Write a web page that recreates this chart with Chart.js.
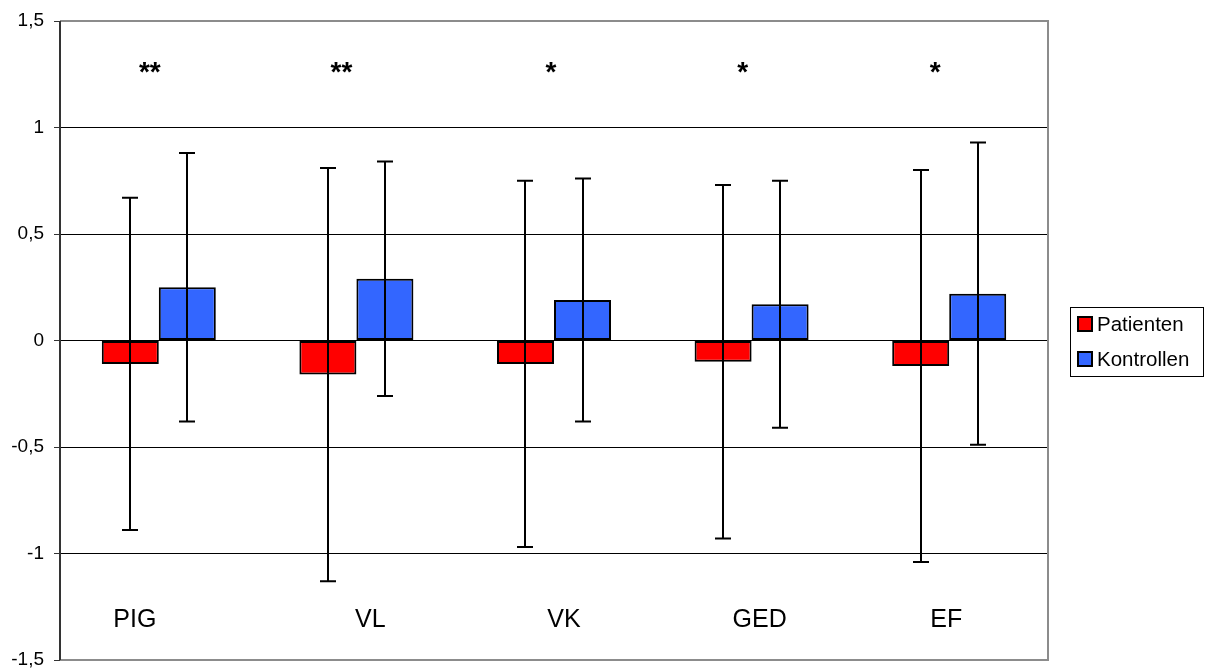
<!DOCTYPE html>
<html>
<head>
<meta charset="utf-8">
<script src="https://cdn.jsdelivr.net/npm/chart.js@4/dist/chart.umd.min.js"></script>
<style>
  html, body { margin: 0; padding: 0; background: #fff; }
  #wrap { width: 1209px; height: 671px; position: relative; }
</style>
</head>
<body>
<div id="wrap"><canvas id="c" width="1209" height="671"></canvas></div>
<script>
// Group names shown inside the plot and significance marks above each group
const categories = ['PIG', 'VL', 'VK', 'GED', 'EF'];
const significance = ['**', '**', '*', '*', '*'];

// Means (bars) and standard deviations (error bars)
const patientenMean = [-0.11, -0.16, -0.11, -0.10, -0.12];
const patientenSD = [0.78, 0.97, 0.86, 0.83, 0.92];
const kontrollenMean = [0.25, 0.29, 0.19, 0.17, 0.22];
const kontrollenSD = [0.63, 0.55, 0.57, 0.58, 0.71];

// Y axis range and step
const yMin = -1.5, yMax = 1.5, yStep = 0.5;

// Horizontal nudges (px) of the in-plot labels relative to the group centre
const labelShift = [-24, 14, 10, 8, -3];
const starShift = [-9, -15, -3, -9, -14];

const FONT = 'Liberation Sans, Arial, sans-serif';

const errorBars = {
  id: 'errorBars',
  afterDatasetsDraw(chart) {
    const ctx = chart.ctx;
    const y = chart.scales.y;
    const sds = [patientenSD, kontrollenSD];
    ctx.save();
    ctx.strokeStyle = '#000';
    ctx.lineWidth = 2;
    chart.data.datasets.forEach((ds, di) => {
      const meta = chart.getDatasetMeta(di);
      meta.data.forEach((bar, i) => {
        const m = ds.data[i], s = sds[di][i];
        const top = y.getPixelForValue(m + s);
        const bot = y.getPixelForValue(m - s);
        const x = Math.round(bar.x);
        ctx.beginPath();
        ctx.moveTo(x, top); ctx.lineTo(x, bot);
        ctx.moveTo(x - 8, top); ctx.lineTo(x + 8, top);
        ctx.moveTo(x - 8, bot); ctx.lineTo(x + 8, bot);
        ctx.stroke();
      });
    });
    ctx.restore();
  }
};

const annotations = {
  id: 'annotations',
  afterDraw(chart) {
    const ctx = chart.ctx;
    const x = chart.scales.x, y = chart.scales.y;
    const a = chart.chartArea;
    ctx.save();
    // gray frame on top, right and bottom of the plot area
    ctx.strokeStyle = '#8c8c8c';
    ctx.lineWidth = 2;
    ctx.beginPath();
    ctx.moveTo(a.left, a.top); ctx.lineTo(a.right, a.top);
    ctx.lineTo(a.right, a.bottom); ctx.lineTo(a.left, a.bottom);
    ctx.stroke();
    // left axis line
    ctx.strokeStyle = '#333';
    ctx.lineWidth = 2;
    ctx.beginPath();
    ctx.moveTo(a.left, a.top); ctx.lineTo(a.left, a.bottom);
    ctx.stroke();

    ctx.fillStyle = '#000';
    ctx.textAlign = 'center';
    ctx.textBaseline = 'middle';
    categories.forEach((c, i) => {
      const cx = x.getPixelForValue(i);
      ctx.font = '25px ' + FONT;
      ctx.fillText(c, cx + labelShift[i], y.getPixelForValue(-1.315));
      ctx.font = 'bold 28px ' + FONT;
      ctx.fillText(significance[i], cx + starShift[i], y.getPixelForValue(1.255));
    });

    // legend box
    const lx = 1070, ly = 307, lw = 133, lh = 69;
    ctx.strokeStyle = '#000';
    ctx.lineWidth = 1;
    ctx.strokeRect(lx + 0.5, ly + 0.5, lw, lh);
    ctx.textAlign = 'left';
    ctx.font = '20.5px ' + FONT;
    chart.data.datasets.forEach((ds, i) => {
      const cy = ly + 17 + i * 35;
      ctx.fillStyle = ds.backgroundColor;
      ctx.fillRect(1078, cy - 7, 14, 14);
      ctx.lineWidth = 2;
      ctx.strokeRect(1078, cy - 7, 14, 14);
      ctx.fillStyle = '#000';
      ctx.fillText(ds.label, 1097, cy + 1);
    });
    ctx.restore();
  }
};

new Chart(document.getElementById('c'), {
  type: 'bar',
  data: {
    labels: categories,
    datasets: [
      { label: 'Patienten', data: patientenMean, backgroundColor: '#ff0000',
        borderColor: '#000', borderWidth: 2, borderSkipped: false },
      { label: 'Kontrollen', data: kontrollenMean, backgroundColor: '#3366ff',
        borderColor: '#000', borderWidth: 2, borderSkipped: false }
    ]
  },
  options: {
    responsive: false,
    animation: false,
    devicePixelRatio: 1,
    categoryPercentage: 0.577,
    barPercentage: 1.0,
    layout: { padding: { left: 0, right: 161, top: 21, bottom: 11 } },
    plugins: { legend: { display: false }, tooltip: { enabled: false } },
    scales: {
      x: {
        display: false,
        grid: { display: false }
      },
      y: {
        min: yMin, max: yMax,
        afterFit(scale) {
          scale.width = 60;
          scale.paddingTop = 0;
          scale.paddingBottom = 0;
        },
        border: { display: false },
        grid: { color: '#000', lineWidth: 1, tickLength: 6, drawTicks: true, tickColor: '#333' },
        ticks: {
          stepSize: yStep,
          padding: 10,
          color: '#000',
          font: { family: FONT, size: 19 },
          callback: v => String(v).replace('.', ',')
        }
      }
    }
  },
  plugins: [errorBars, annotations]
});
</script>
</body>
</html>
